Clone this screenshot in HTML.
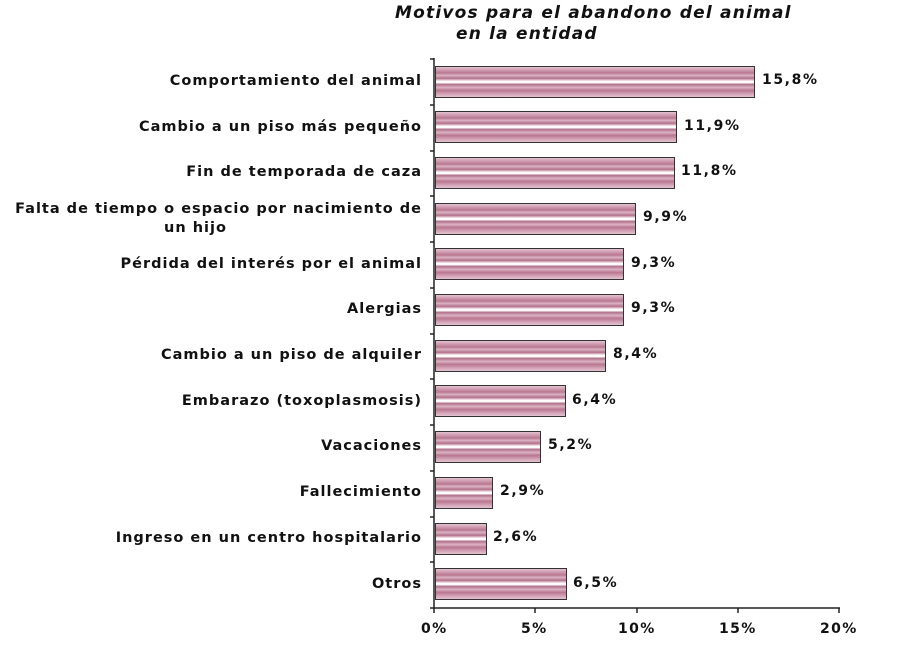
<!DOCTYPE html>
<html><head><meta charset="utf-8"><style>
body{margin:0;width:900px;height:648px;background:#fff;font-family:"DejaVu Sans","Liberation Sans",sans-serif;overflow:hidden;position:relative}
.t{position:absolute;font-weight:bold;font-style:italic;font-size:17px;letter-spacing:1.2px;color:#111;white-space:nowrap}
.lab{position:absolute;right:478px;text-align:right;font-weight:bold;font-size:14.5px;letter-spacing:1px;color:#111;line-height:19px;white-space:nowrap}
.bar{position:absolute;left:435px;height:32px;border:1.5px solid #333;box-sizing:border-box;
background:linear-gradient(to bottom,#e4c3d0 0%,#cf9cb1 10%,#b9778f 20%,#dcb3c3 28%,#b06f89 38%,#e8cbd6 44%,#fff 48%,#fff 52%,#b06f89 58%,#dcb3c3 68%,#b9778f 78%,#cf9cb1 88%,#e4c3d0 100%)}
.v{position:absolute;font-weight:bold;font-size:14px;letter-spacing:1.6px;color:#111}
.ax{position:absolute;font-weight:bold;font-size:14px;letter-spacing:1.4px;color:#111}
</style></head><body>
<div class="t" style="left:395px;top:3px">Motivos para el abandono del animal</div>
<div class="t" style="left:456px;top:24px">en la entidad</div>
<svg width="900" height="648" style="position:absolute;left:0;top:0">
<line x1="434" y1="58" x2="434" y2="609" stroke="#222" stroke-width="1.5"/>
<line x1="434" y1="608" x2="840" y2="608" stroke="#222" stroke-width="1.5"/>
<g stroke="#222" stroke-width="1.5">
<line x1="430" y1="59" x2="434" y2="59"/><line x1="430" y1="105" x2="434" y2="105"/><line x1="430" y1="151" x2="434" y2="151"/><line x1="430" y1="196" x2="434" y2="196"/><line x1="430" y1="242" x2="434" y2="242"/><line x1="430" y1="288" x2="434" y2="288"/><line x1="430" y1="334" x2="434" y2="334"/><line x1="430" y1="379" x2="434" y2="379"/><line x1="430" y1="425" x2="434" y2="425"/><line x1="430" y1="471" x2="434" y2="471"/><line x1="430" y1="517" x2="434" y2="517"/><line x1="430" y1="562" x2="434" y2="562"/><line x1="430" y1="608" x2="434" y2="608"/>
<line x1="434" y1="608" x2="434" y2="613"/><line x1="535" y1="608" x2="535" y2="613"/><line x1="637" y1="608" x2="637" y2="613"/><line x1="738" y1="608" x2="738" y2="613"/><line x1="839" y1="608" x2="839" y2="613"/>
</g></svg>
<div class="lab" style="top:72px">Comportamiento del animal</div>
<div class="lab" style="top:118px">Cambio a un piso más pequeño</div>
<div class="lab" style="top:163px">Fin de temporada de caza</div>
<div class="lab" style="top:200px">Falta de tiempo o espacio por nacimiento de</div>
<div class="lab" style="top:219px;right:auto;left:164px">un hijo</div>
<div class="lab" style="top:255px">Pérdida del interés por el animal</div>
<div class="lab" style="top:300px">Alergias</div>
<div class="lab" style="top:346px">Cambio a un piso de alquiler</div>
<div class="lab" style="top:392px">Embarazo (toxoplasmosis)</div>
<div class="lab" style="top:437px">Vacaciones</div>
<div class="lab" style="top:483px">Fallecimiento</div>
<div class="lab" style="top:529px">Ingreso en un centro hospitalario</div>
<div class="lab" style="top:575px">Otros</div>
<div class="bar" style="top:66px;width:320px"></div><div class="v" style="left:762px;top:72px">15,8%</div>
<div class="bar" style="top:111px;width:242px"></div><div class="v" style="left:684px;top:118px">11,9%</div>
<div class="bar" style="top:157px;width:240px"></div><div class="v" style="left:681px;top:163px">11,8%</div>
<div class="bar" style="top:203px;width:201px"></div><div class="v" style="left:643px;top:209px">9,9%</div>
<div class="bar" style="top:248px;width:189px"></div><div class="v" style="left:631px;top:255px">9,3%</div>
<div class="bar" style="top:294px;width:189px"></div><div class="v" style="left:631px;top:300px">9,3%</div>
<div class="bar" style="top:340px;width:171px"></div><div class="v" style="left:613px;top:346px">8,4%</div>
<div class="bar" style="top:385px;width:131px"></div><div class="v" style="left:572px;top:392px">6,4%</div>
<div class="bar" style="top:431px;width:106px"></div><div class="v" style="left:548px;top:437px">5,2%</div>
<div class="bar" style="top:477px;width:58px"></div><div class="v" style="left:500px;top:483px">2,9%</div>
<div class="bar" style="top:523px;width:52px"></div><div class="v" style="left:493px;top:529px">2,6%</div>
<div class="bar" style="top:568px;width:132px"></div><div class="v" style="left:573px;top:575px">6,5%</div>
<div class="ax" style="left:421px;top:621px">0%</div>
<div class="ax" style="left:521px;top:621px">5%</div>
<div class="ax" style="left:618px;top:621px">10%</div>
<div class="ax" style="left:719px;top:621px">15%</div>
<div class="ax" style="left:820px;top:621px">20%</div>
</body></html>
